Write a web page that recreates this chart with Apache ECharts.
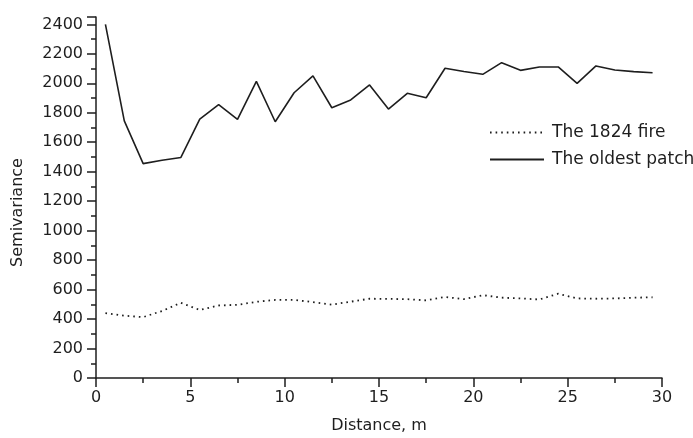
<!DOCTYPE html>
<html>
<head>
<meta charset="utf-8">
<script src="https://cdn.jsdelivr.net/npm/echarts@6/dist/echarts.min.js"></script>
<style>
html, body { margin: 0; padding: 0; background: #fff; }
#chart { width: 693px; height: 438px; }
</style>
</head>
<body>
<div id="chart"></div>
<script>
// distance lags (m)
const distance = [0.5, 1.5, 2.5, 3.5, 4.5, 5.5, 6.5, 7.5, 8.5, 9.5,
  10.5, 11.5, 12.5, 13.5, 14.5, 15.5, 16.5, 17.5, 18.5, 19.5,
  20.5, 21.5, 22.5, 23.5, 24.5, 25.5, 26.5, 27.5, 28.5, 29.5]
const fire1824 = [440, 423, 413, 455, 510, 462, 492, 497, 517, 530,
  530, 515, 498, 518, 538, 537, 535, 527, 550, 535,
  562, 545, 540, 533, 572, 540, 538, 540, 545, 548]
const oldestPatch = [2400, 1745, 1455, 1478, 1497, 1757, 1855, 1755, 2013, 1739,
  1936, 2050, 1834, 1887, 1989, 1825, 1932, 1902, 2102, 2080,
  2061, 2140, 2088, 2111, 2111, 2000, 2118, 2090, 2079, 2072]
const seriesNames = ['The 1824 fire', 'The oldest patch']

const ink = '#1e1e1e'
const font = 'DejaVu Sans'

const pairs = vals => distance.map((d, i) => [d, vals[i]])
const tickStyle = { color: ink, width: 1.5 }

const chart = echarts.init(document.getElementById('chart'))
chart.setOption({
  animation: false,
  textStyle: { fontFamily: font, color: ink },
  grid: {
    left: 96,
    right: 31,
    top: 17,
    bottom: 60,
    containLabel: false,
    outerBoundsMode: 'none',
  },
  legend: {
    orient: 'vertical',
    left: 484,
    top: 119,
    itemWidth: 54,
    itemHeight: 14,
    itemGap: 10,
    itemStyle: { opacity: 0 },
    textStyle: { fontSize: 17, color: ink, fontFamily: font, padding: [0, 0, 0, 3] },
    data: seriesNames,
  },
  xAxis: {
    type: 'value',
    min: 0,
    max: 30,
    interval: 5,
    name: 'Distance, m',
    nameLocation: 'middle',
    nameGap: 40,
    nameTextStyle: { fontSize: 16, color: ink },
    axisLine: { lineStyle: tickStyle },
    axisTick: { length: 9, lineStyle: tickStyle },
    minorTick: { show: true, splitNumber: 2, length: 5, lineStyle: tickStyle },
    axisLabel: { fontSize: 16, color: ink, margin: 12 },
    splitLine: { show: false },
  },
  yAxis: {
    type: 'value',
    min: 0,
    max: 2450,
    interval: 200,
    name: 'Semivariance',
    nameLocation: 'middle',
    nameGap: 70,
    nameTextStyle: { fontSize: 16, color: ink, padding: [0, 30, 0, 0] },
    axisLine: { lineStyle: tickStyle },
    axisTick: { length: 9, lineStyle: tickStyle },
    minorTick: { show: true, splitNumber: 2, length: 5, lineStyle: tickStyle },
    axisLabel: {
      fontSize: 16,
      color: ink,
      margin: 13,
      showMaxLabel: false,
      formatter: v => String(v),
    },
    splitLine: { show: false },
  },
  series: [
    {
      name: seriesNames[0],
      type: 'line',
      symbol: 'none',
      data: pairs(fire1824),
      lineStyle: { color: ink, width: 1.8, type: [1.6, 4] },
      itemStyle: { color: ink },
    },
    {
      name: seriesNames[1],
      type: 'line',
      symbol: 'none',
      data: pairs(oldestPatch),
      lineStyle: { color: ink, width: 1.6 },
      itemStyle: { color: ink },
    },
  ],
})
</script>
</body>
</html>
